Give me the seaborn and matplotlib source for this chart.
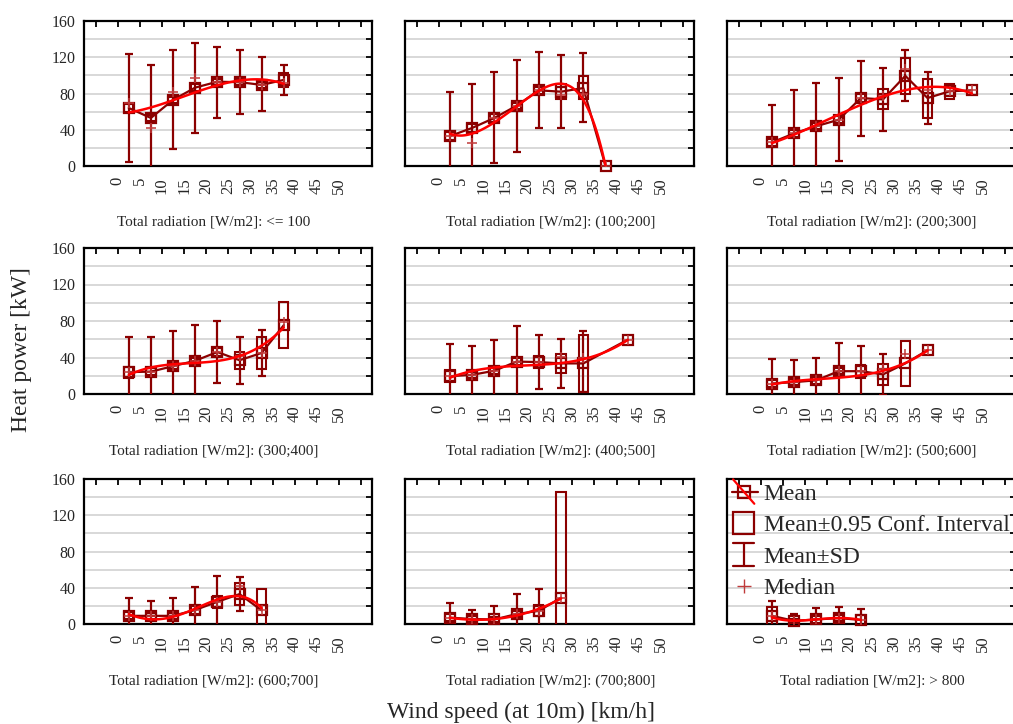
import numpy as np
import pandas as pd
import matplotlib
matplotlib.use("Agg")
import matplotlib.pyplot as plt
import seaborn as sns
from matplotlib.patches import Rectangle
from matplotlib.lines import Line2D
from matplotlib.legend_handler import HandlerBase

nan = np.nan

# ---------------- data ----------------
titles = ["Total radiation [W/m2]: <= 100", "Total radiation [W/m2]: (100;200]",
          "Total radiation [W/m2]: (200;300]", "Total radiation [W/m2]: (300;400]",
          "Total radiation [W/m2]: (400;500]", "Total radiation [W/m2]: (500;600]",
          "Total radiation [W/m2]: (600;700]", "Total radiation [W/m2]: (700;800]",
          "Total radiation [W/m2]: > 800"]

speed = [
    [2.5, 7.5, 12.5, 17.5, 22.5, 27.5, 32.5, 37.5],
    [2.5, 7.5, 12.5, 17.5, 22.5, 27.5, 32.5, 37.5],
    [2.5, 7.5, 12.5, 17.5, 22.5, 27.5, 32.5, 37.5, 42.5, 47.5],
    [2.5, 7.5, 12.5, 17.5, 22.5, 27.5, 32.5, 37.5],
    [2.5, 7.5, 12.5, 17.5, 22.5, 27.5, 32.5, 42.5],
    [2.5, 7.5, 12.5, 17.5, 22.5, 27.5, 32.5, 37.5],
    [2.5, 7.5, 12.5, 17.5, 22.5, 27.5, 32.5],
    [2.5, 7.5, 12.5, 17.5, 22.5, 27.5],
    [2.5, 7.5, 12.5, 17.5, 22.5],
]

mean = [
    [64, 53, 73, 86.5, 93, 92.5, 89.5, 95],
    [33, 42, 53, 66.5, 83.5, 82, 86, 0],
    [26, 36, 44, 51, 75, 73.5, 99.5, 75, 82.5, 83.5],
    [24, 24.5, 30.5, 36.5, 46, 37, 45, 75.5],
    [19.5, 21, 25.5, 35.5, 35, 33.5, 33.5, 59.5],
    [11.5, 13, 15, 25, 25, 21.5, 33.5, 48],
    [9, 9, 9, 15.5, 24.5, 33, 15],
    [7, 5.5, 5, 11, 14.5, 29],
    [9, 3.5, 5, 6.5, 4.5],
]

ci_low = [
    [60, 49.5, 69.5, 83, 89.5, 89, 86, 87],
    [28.5, 38, 49, 63, 80, 73.5, 73.5, 0],
    [22, 32, 40.5, 47.5, 71, 62.5, 79.5, 53.5, 74, 83.5],
    [18, 21, 27, 33, 41.5, 27.5, 27, 50.5],
    [13, 18, 22, 32, 28.5, 23, 2, 59.5],
    [8, 9.5, 11.5, 21.5, 17.5, 10, 9, 48],
    [5, 5.5, 5.5, 11.5, 17.5, 20.5, -9],
    [3, 2.5, 2, 7.5, 9, -88],
    [-1, 1, 1.5, 3, -1],
]

ci_high = [
    [68, 56.5, 76.5, 90, 96.5, 96, 93, 103],
    [37.5, 46, 57, 70, 87, 91, 99.5, 0],
    [30, 40, 48, 55, 79, 84.5, 119.5, 96.5, 91, 83.5],
    [30, 28, 34, 40, 50.5, 46, 63, 100.5],
    [26.5, 24.5, 29, 39, 41.5, 44, 65, 59.5],
    [15, 16.5, 18.5, 28.5, 32, 33, 58.5, 48],
    [13, 12.5, 12.5, 19.5, 31, 45.5, 39],
    [11, 8.5, 8, 14.5, 21.5, 146],
    [19, 6, 8.5, 10, 10],
]

sd_low = [
    [4, -5, 19, 36, 52.5, 57, 61, 78],
    [-16, -7, 3, 16, 41.5, 42, 48.5, nan],
    [-15, -12, -3, 5, 33, 39, 72, 46, nan, nan],
    [-14, -14, -8, -2.5, 12, 11.5, 19.5, nan],
    [-16, -11, -8.5, -3, 5, 7, 2, nan],
    [-15, -11, -10, -6, -3, -1, nan, nan],
    [-10, -7, -11, -9.5, -4, 14, nan],
    [-9, -5, -10, -11, -9, nan],
    [-7, -4, -8, -6, -7.5],
]

sd_high = [
    [123.5, 111, 128.5, 135.5, 131.5, 128.5, 120, 111],
    [82, 91, 104, 117.5, 125.5, 123, 125, nan],
    [67, 84, 91.5, 97.5, 116, 108.5, 128, 104, nan, nan],
    [62, 63, 69, 75.5, 80, 62, 70.5, nan],
    [54.5, 53, 59.5, 74, 65, 60, 68.5, nan],
    [38.5, 37, 40, 56, 53, 44, nan, nan],
    [28.5, 25.5, 29, 40.5, 53.5, 51.5, nan],
    [23, 16, 20, 33, 38.5, nan],
    [25, 11, 18, 19, 16.5],
]

median = [
    [69, 42, 81.5, 97, 93, 92.5, 89.5, 92],
    [33, 25, 53, 66.5, 83.5, 78, 80, 0],
    [26, 36, 44, 51, 75, 77, 107.5, 84, 83, 83.5],
    [24, 24.5, 30.5, 36.5, 46, 42, 45, 78.5],
    [19.5, 21, 25.5, 35.5, 35, 40.5, 40, 59.5],
    [11.5, 13, 15, 25, 25, 27, 44, 48],
    [9, 9, 9, 15.5, 24.5, 42, 15],
    [7, 5.5, 5, 11, 14.5, 29],
    [9, 3.5, 5, 6.5, 4.5],
]

# red smoothed curve, read at bin centres
fit_curve = [
    [59.5, 64, 72, 82, 90, 93.5, 95, 91],
    [35.8, 35.5, 48.7, 65.3, 83, 91, 72.6, 0],
    [25.4, 34.7, 45, 56, 69, 76.3, 83.7, 86.6, 86.6, 80],
    [21.2, 28.5, 32, 34.7, 37, 41.3, 52.2, 73.4],
    [18.6, 23.7, 28.5, 32, 33, 33.2, 37.6, 59.5],
    [11, 12.8, 15.7, 19.4, 21.2, 24, 34, 47.9],
    [11, 5.1, 8, 17.3, 26.5, 30.9, 17.3],
    [7, 4.4, 5.5, 10, 16.2, 28.3],
    [7.4, 3.7, 5.1, 6.6, 4.4],
]
fit_order = [3, 5, 3, 3, 3, 3, 4, 3, 4]

x_ticks = list(range(-5, 60, 5))
x_ticklabels = ["" if (t < 0 or t > 50) else str(t) for t in x_ticks]
y_ticks = [0, 40, 80, 120, 160]
y_minor = [20, 60, 100, 140]

# ---------------- style ----------------
sns.set_style("white")
plt.rcParams["font.family"] = ["Liberation Serif", "DejaVu Serif"]
plt.rcParams["axes.linewidth"] = 1.5

DR = "#8b0000"
RED = "#ff0000"
MEDC = "#c03a3a"
GRID = "#d6d6d6"

W, H = 1013, 724
fig = plt.figure(figsize=(W / 100, H / 100), dpi=100)
col_left = [84, 405, 727]
col_w = [288, 289, 289]
row_top = [21, 248, 479]
row_h = [145, 146, 145]
title_x = [214, 551, 872]
title_y = [222, 451, 681]

BOXW = 2.1

axes = []
for r in range(3):
    for c in range(3):
        i = r * 3 + c
        ax = fig.add_axes([col_left[c] / W, 1 - (row_top[r] + row_h[r]) / H,
                           col_w[c] / W, row_h[r] / H])
        axes.append(ax)
        x = np.array(speed[i], float)
        m = np.array(mean[i], float)
        df = pd.DataFrame({"speed": x, "mean": m, "median": median[i]})

        # grid
        for g in [20, 40, 60, 80, 100, 120, 140]:
            ax.axhline(g, color=GRID, lw=1.3, zorder=0)

        # confidence interval boxes
        for xi, lo, hi in zip(x, ci_low[i], ci_high[i]):
            if hi - lo > 0:
                ax.add_patch(Rectangle((xi - BOXW / 2, lo), BOXW, hi - lo, fill=False,
                                       ec=DR, lw=1.5, zorder=3))

        # SD whiskers
        lo = np.array(sd_low[i], float)
        hi = np.array(sd_high[i], float)
        ok = ~np.isnan(lo)
        if ok.any():
            ax.errorbar(x[ok], m[ok], yerr=[m[ok] - lo[ok], hi[ok] - m[ok]], fmt="none",
                        ecolor=DR, elinewidth=1.6, capsize=2.6, capthick=1.6, zorder=3)

        # mean line with square markers
        sns.lineplot(data=df, x="speed", y="mean", ax=ax, color=DR, lw=1.6,
                     marker="s", markersize=7.5, markerfacecolor="none",
                     markeredgecolor=DR, markeredgewidth=1.6, estimator=None,
                     sort=False, zorder=4, clip_on=False)

        # medians
        sns.scatterplot(data=df, x="speed", y="median", ax=ax, marker="+", s=45,
                        color=MEDC, linewidth=1.1, zorder=4)

        # smoothed fit
        sns.regplot(x=x, y=np.array(fit_curve[i], float), order=fit_order[i], ax=ax,
                    scatter=False, ci=None, truncate=True, color=RED,
                    line_kws={"lw": 1.8, "zorder": 5})

        ax.set_xlim(-7.6, 57.4)
        ax.set_ylim(0, 160)
        ax.set_xlabel("")
        ax.set_ylabel("")
        ax.set_xticks(x_ticks)
        ax.set_xticklabels(x_ticklabels, rotation=90, fontsize=12)
        ax.set_yticks(y_ticks)
        ax.set_yticks(y_minor, minor=True)
        if c == 0:
            ax.set_yticklabels([str(t) for t in y_ticks], fontsize=11.5)
        else:
            ax.set_yticklabels([])
        ax.tick_params(which="both", direction="in", top=True, right=True,
                       length=4.5, width=1.3, color="black")
        ax.tick_params(axis="x", pad=8)
        ax.tick_params(axis="y", pad=6)
        for s in ax.spines.values():
            s.set_color("black")
            s.set_linewidth(1.6)
        ax.grid(False)
        fig.text(title_x[c] / W, 1 - title_y[r] / H, titles[i], ha="center",
                 va="center", fontsize=11)


# ---------------- legend (custom handles) ----------------
class MeanProxy: pass
class CIProxy: pass
class SDProxy: pass
class MedianProxy: pass


class HMean(HandlerBase):
    def create_artists(self, legend, orig, xd, yd, w, h, fs, trans):
        x0, x1 = -xd - 1, -xd + w + 3
        yc = -yd + h / 2
        l = Line2D([x0, x1], [yc, yc], color=DR, lw=1.6, transform=trans)
        mk = Line2D([(x0 + x1) / 2 - 1], [yc], marker="s", ms=8, mfc="none", mec=DR,
                    mew=1.6, ls="none", transform=trans)
        d = Line2D([-xd, -xd + w], [yc + h * 0.55, yc - h * 0.55], color=RED, lw=1.6,
                   transform=trans)
        return [l, mk, d]


class HCI(HandlerBase):
    def create_artists(self, legend, orig, xd, yd, w, h, fs, trans):
        return [Rectangle((-xd, -yd), w, h, fill=False, ec=DR, lw=1.6, transform=trans)]


class HSD(HandlerBase):
    def create_artists(self, legend, orig, xd, yd, w, h, fs, trans):
        xc = -xd + w / 2
        y0, y1 = -yd, -yd + h
        return [Line2D([xc, xc], [y0, y1], color=DR, lw=1.6, transform=trans),
                Line2D([-xd, -xd + w], [y0, y0], color=DR, lw=1.6, transform=trans),
                Line2D([-xd, -xd + w], [y1, y1], color=DR, lw=1.6, transform=trans)]


class HMed(HandlerBase):
    def create_artists(self, legend, orig, xd, yd, w, h, fs, trans):
        return [Line2D([-xd + w / 2], [-yd + h / 2], marker="+", ms=10, mew=1.0,
                       color=MEDC, ls="none", transform=trans)]


leg_ax = axes[8]
leg = leg_ax.legend([MeanProxy(), CIProxy(), SDProxy(), MedianProxy()],
                    ["Mean", "Mean\u00b10.95 Conf. Interval", "Mean\u00b1SD", "Median"],
                    handler_map={MeanProxy: HMean(), CIProxy: HCI(), SDProxy: HSD(),
                                 MedianProxy: HMed()},
                    loc="upper left", bbox_to_anchor=(0.021, 0.99), frameon=False,
                    borderaxespad=0, borderpad=0, fontsize=17, handlelength=0.9,
                    handleheight=1.07, labelspacing=0.31, handletextpad=0.4)
leg.set_zorder(10)

fig.text(21 / W, 1 - 350 / H, "Heat power [kW]", rotation=90, ha="center",
         va="center", fontsize=17)
fig.text(521 / W, 1 - 712 / H, "Wind speed (at 10m) [km/h]", ha="center",
         va="center", fontsize=17)

fig.savefig("out.png", dpi=100)
